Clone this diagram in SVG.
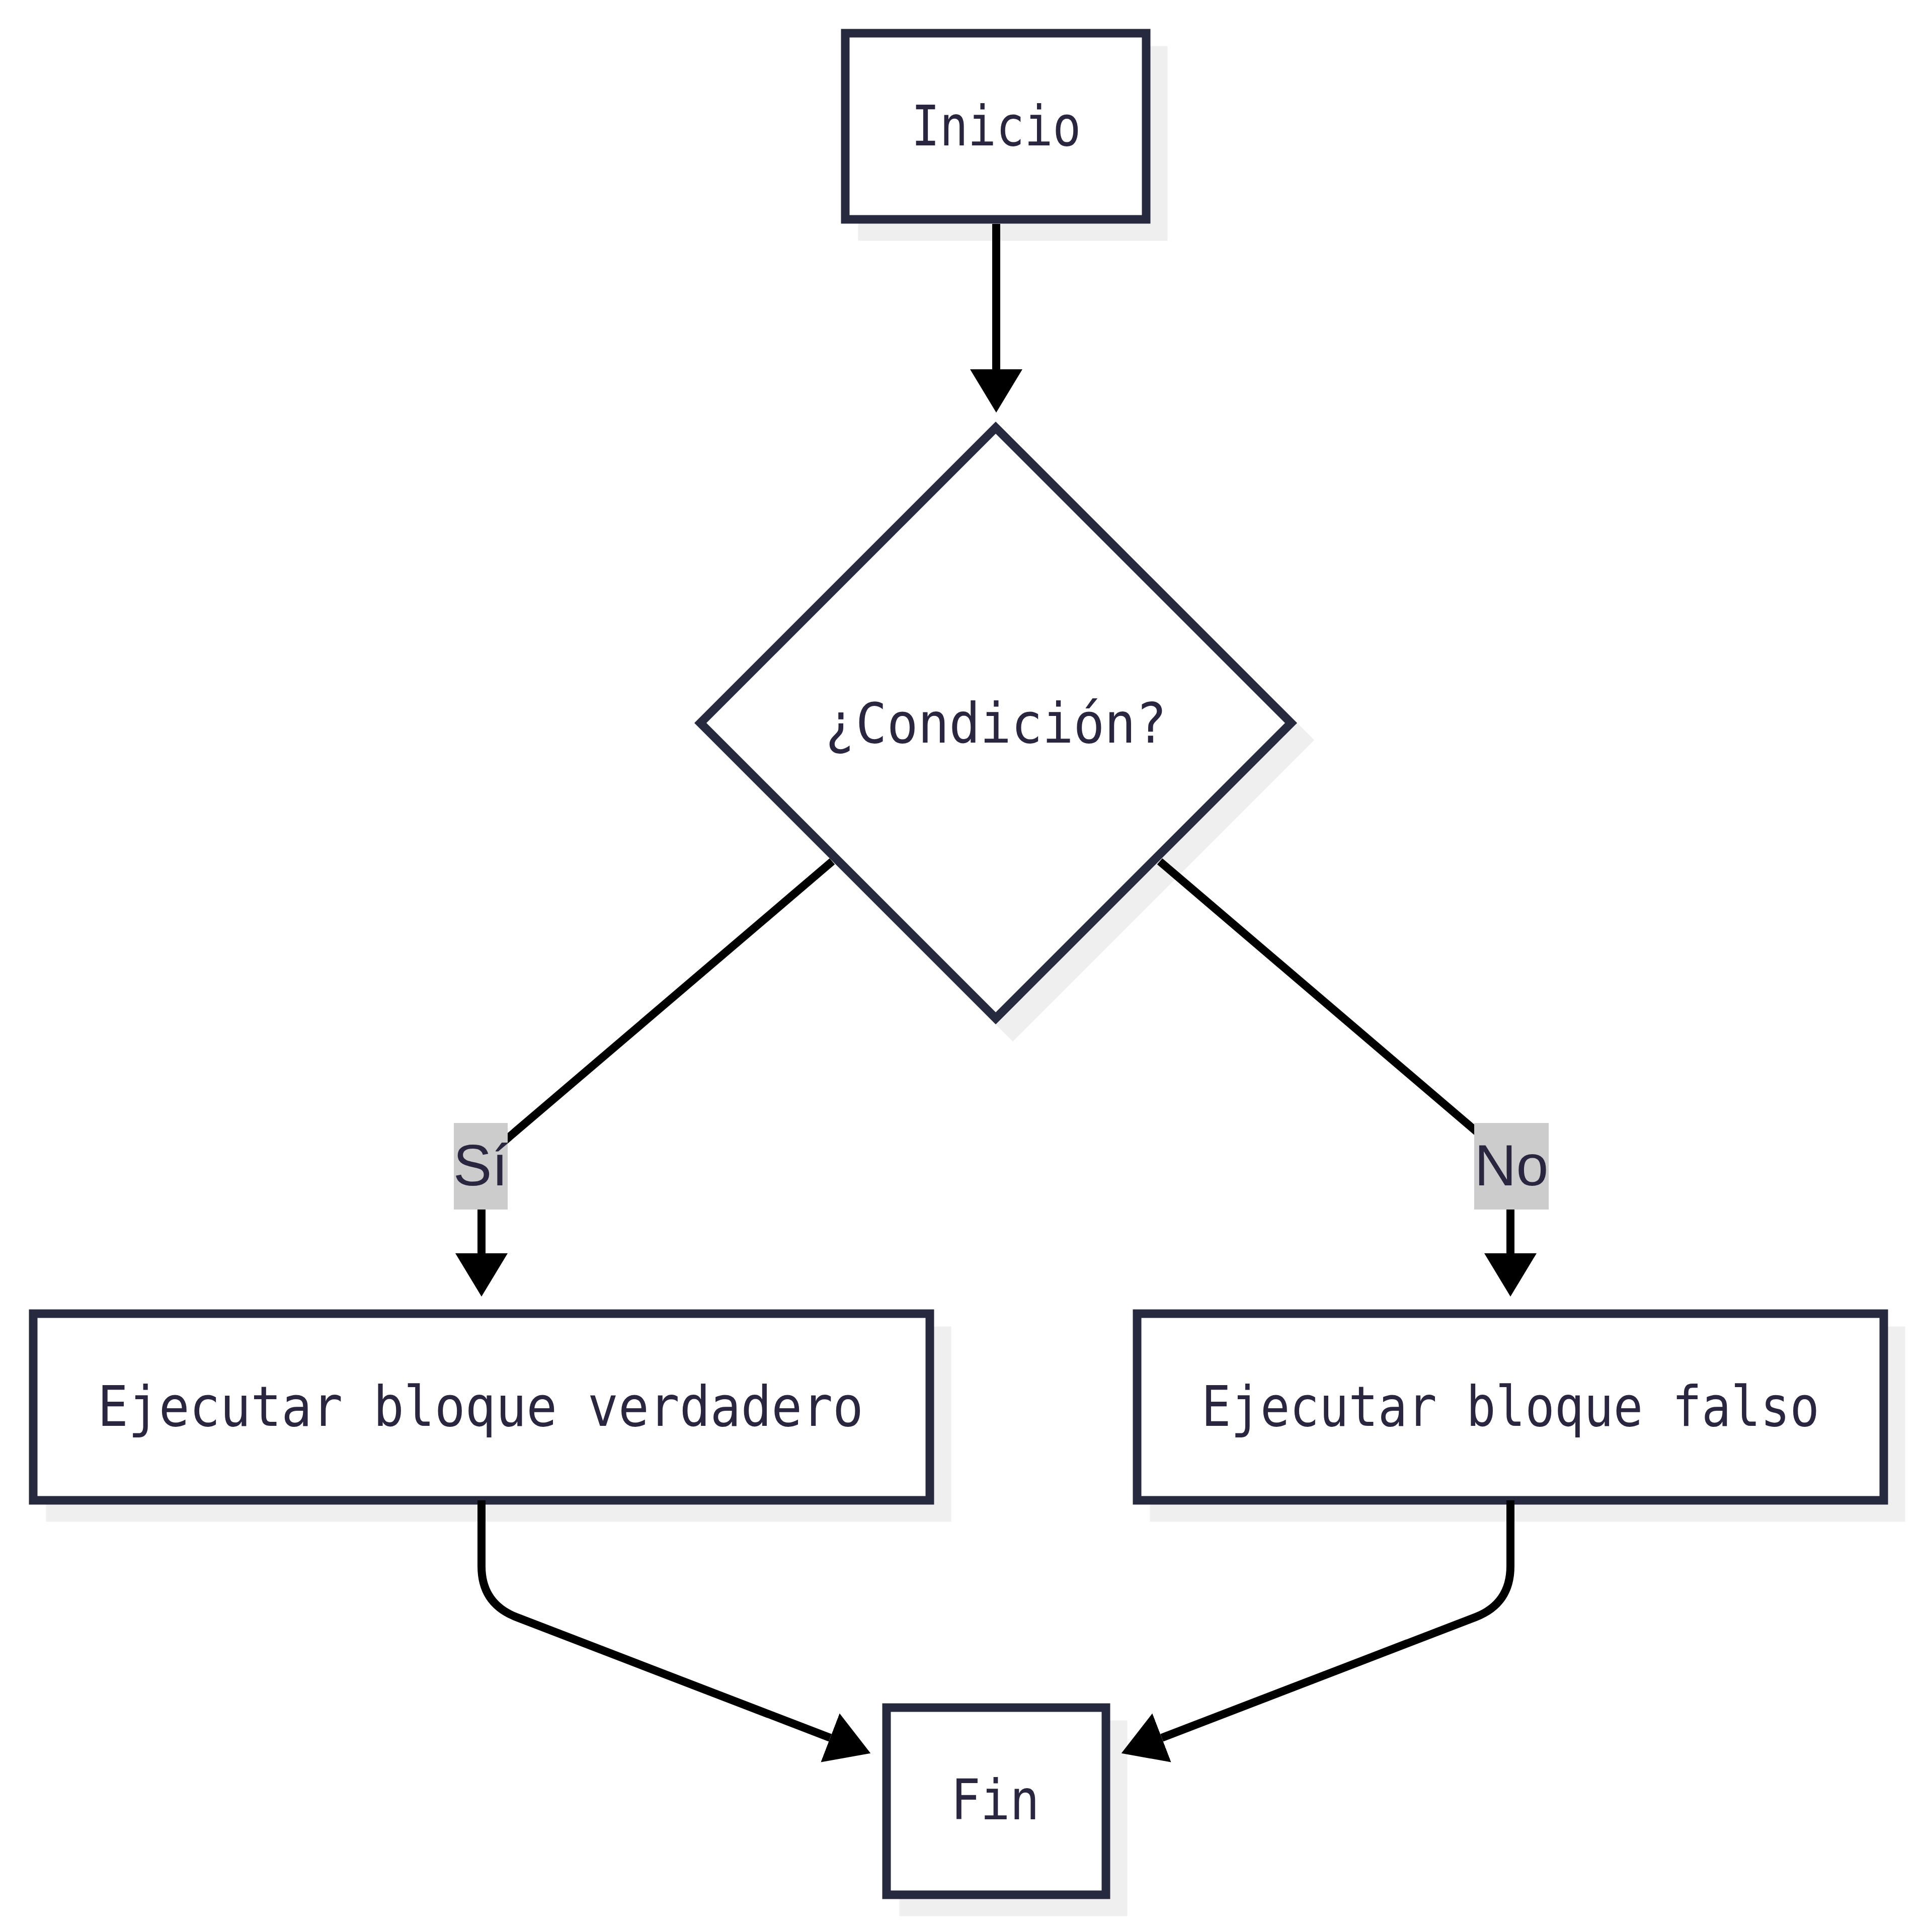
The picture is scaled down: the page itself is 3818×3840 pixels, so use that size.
<svg xmlns="http://www.w3.org/2000/svg" width="3818" height="3840" viewBox="0 0 3818 3840">
<style>
.shadow{fill:#efefef;stroke:#efefef;stroke-width:17}
.node{fill:#ffffff;stroke:#272a3e;stroke-width:17}
.ntext{font-family:"DejaVu Sans Mono","Liberation Mono",monospace;font-size:110px;fill:#2a2640;text-anchor:middle}
.edge{fill:none;stroke:#000000;stroke-width:16}
.lbg{fill:#cccccc}
.ltext{font-family:"Liberation Sans",Arial,sans-serif;font-size:115px;fill:#2a2640;text-anchor:middle}
</style>
<defs>
<marker id="arr" markerUnits="userSpaceOnUse" viewBox="0 0 86 104" refX="0" refY="52" markerWidth="86" markerHeight="104" orient="auto">
<path d="M0,0 L86,52 L0,104 z" fill="#000000"/>
</marker>
</defs>
<rect width="3818" height="3840" fill="#ffffff"/>

<g id="node-inicio">
<rect class="shadow" x="1714" y="100" width="598" height="370"/>
<rect class="node" x="1680" y="66" width="598" height="370"/>
<text class="ntext" x="1980" y="289" textLength="337" lengthAdjust="spacingAndGlyphs">Inicio</text>
</g>

<g id="node-condicion">
<polygon class="shadow" points="2013,884 2600,1471 2013,2058 1426,1471"/>
<polygon class="node" points="1979,850 2566,1437 1979,2024 1392,1437"/>
<text class="ntext" x="1979" y="1476" textLength="680" lengthAdjust="spacingAndGlyphs">¿Condición?</text>
</g>

<g id="node-verdadero">
<rect class="shadow" x="100" y="2645" width="1782" height="371"/>
<rect class="node" x="66" y="2611" width="1782" height="371"/>
<text class="ntext" x="955" y="2834" textLength="1522" lengthAdjust="spacingAndGlyphs">Ejecutar bloque verdadero</text>
</g>

<g id="node-falso">
<rect class="shadow" x="2294" y="2645" width="1484" height="371"/>
<rect class="node" x="2260" y="2611" width="1484" height="371"/>
<text class="ntext" x="3002" y="2834" textLength="1228" lengthAdjust="spacingAndGlyphs">Ejecutar bloque falso</text>
</g>

<g id="node-fin">
<rect class="shadow" x="1796" y="3428" width="436" height="372"/>
<rect class="node" x="1762" y="3394" width="436" height="372"/>
<text class="ntext" x="1978" y="3616" textLength="176" lengthAdjust="spacingAndGlyphs">Fin</text>
</g>

<g id="connectors">
<path class="edge" d="M1980,445 L1980,734" marker-end="url(#arr)"/>
<path class="edge" d="M1654,1712 L1000,2270 Q957,2306 957,2350 L957,2491" marker-end="url(#arr)"/>
<path class="edge" d="M2305,1712 L2959,2270 Q3002,2306 3002,2350 L3002,2491" marker-end="url(#arr)"/>
<path class="edge" d="M957,2982 L957,3113 Q957,3187 1026,3214 L1650,3454" marker-end="url(#arr)"/>
<path class="edge" d="M3002,2982 L3002,3113 Q3002,3187 2933,3214 L2309,3454" marker-end="url(#arr)"/>
</g>

<g id="edge-labels">
<g id="label-si">
<rect class="lbg" x="902" y="2232" width="107" height="172"/>
<text class="ltext" x="955" y="2356">Sí</text>
</g>
<g id="label-no">
<rect class="lbg" x="2930" y="2232" width="148" height="172"/>
<text class="ltext" x="3004" y="2356">No</text>
</g>
</g>
</svg>
